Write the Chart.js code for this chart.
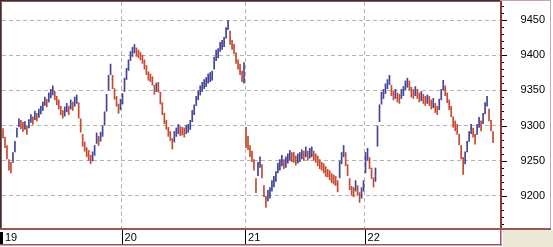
<!DOCTYPE html>
<html><head><meta charset="utf-8">
<script src="https://cdn.jsdelivr.net/npm/chart.js@4/dist/chart.umd.min.js"></script>
<style>html,body{margin:0;padding:0;background:#fff}#wrap{width:553px;height:247px}</style>
</head><body><div id="wrap"><canvas id="c" width="553" height="247"></canvas></div>
<script>
// ---- data ----
const dayLabels = ['19', '20', '21', '22'];
const dayStart  = [0, 60, 122, 182];          // bar index where each day begins
const slotCount = 250;                        // bar slots along the time axis
const yTickStep = 10, yLabelStep = 50;

const low19 = [9282,9268,9252,9236,9232,9247,9262,9283,9298,9295,9291,9294,9287,9296,9304,9301,9308,9306,9311,9316,
 9321,9328,9326,9333,9339,9343,9336,9329,9323,9315,9310,9313,9319,9315,9323,9321,9327,9331,9310,9290,
 9270,9263,9255,9250,9245,9249,9257,9274,9271,9277,9284,9300,9320,9350,9372,9352,9337,9327,9317,9322];
const high19 = [9296,9284,9272,9252,9248,9262,9278,9297,9310,9308,9305,9306,9300,9309,9316,9313,9321,9318,9324,9328,
 9334,9341,9338,9347,9352,9357,9349,9342,9337,9328,9322,9327,9332,9328,9337,9334,9341,9344,9333,9310,
 9288,9277,9269,9265,9258,9263,9272,9290,9285,9291,9300,9320,9345,9372,9388,9372,9353,9342,9331,9338];
const low20 = [9330,9348,9365,9378,9392,9398,9403,9398,9396,9393,9388,9380,9372,9364,9362,9357,9344,9348,9347,9330,
 9315,9302,9294,9284,9278,9266,9276,9284,9288,9285,9286,9283,9288,9290,9294,9305,9315,9328,9336,9343,
 9348,9352,9355,9360,9362,9364,9380,9392,9396,9405,9408,9412,9424,9436,9415,9408,9402,9388,9380,9372,9362,9360];
const high20 = [9346,9368,9382,9394,9406,9412,9416,9411,9408,9405,9401,9394,9386,9377,9374,9370,9358,9361,9362,9348,
 9333,9318,9308,9298,9292,9282,9292,9297,9302,9299,9298,9297,9301,9302,9308,9322,9330,9342,9350,9357,
 9362,9366,9369,9374,9376,9378,9398,9408,9410,9419,9422,9426,9440,9450,9435,9422,9416,9404,9394,9388,9378,9390];
const low21 = [9268,9265,9255,9248,9236,9204,9228,9240,9225,9198,9183,9192,9196,9206,9212,9220,9232,9236,9242,9238,
 9240,9246,9250,9248,9247,9243,9246,9248,9252,9250,9255,9250,9253,9255,9250,9247,9242,9238,9236,9232,
 9227,9226,9222,9218,9216,9214,9205,9225,9245,9255,9242,9228,9208,9200,9198,9206,9200,9190,9196,9206];
const high21 = [9298,9285,9272,9264,9252,9225,9248,9256,9245,9215,9200,9208,9212,9222,9228,9235,9247,9252,9258,9252,
 9256,9260,9265,9262,9262,9257,9260,9262,9266,9264,9270,9264,9268,9270,9264,9260,9257,9252,9248,9246,
 9242,9238,9236,9232,9230,9228,9222,9250,9262,9272,9262,9245,9225,9214,9212,9222,9215,9205,9212,9222];
const low22 = [9232,9250,9238,9224,9212,9220,9270,9305,9330,9338,9345,9352,9358,9342,9336,9338,9333,9331,9338,9342,
 9350,9354,9350,9340,9338,9342,9338,9333,9335,9331,9328,9331,9328,9323,9325,9318,9315,9322,9336,9350,
 9342,9332,9322,9312,9297,9292,9287,9272,9252,9230,9245,9262,9277,9288,9283,9273,9287,9297,9292,9302,
 9316,9327,9306,9292,9275];
const high22 = [9262,9268,9255,9240,9226,9240,9300,9330,9348,9352,9360,9366,9372,9358,9350,9352,9347,9345,9352,9356,
 9364,9368,9364,9355,9352,9356,9352,9347,9349,9345,9342,9344,9342,9337,9339,9332,9328,9338,9352,9365,
 9357,9347,9337,9328,9313,9307,9302,9288,9272,9255,9263,9278,9292,9302,9297,9288,9302,9312,9307,9318,
 9333,9342,9324,9308,9292];

// ---- build ----
const lows = [...low19, ...low20, ...low21, ...low22];
const highs = [...high19, ...high20, ...high21, ...high22];
const ranges = lows.map((l, i) => [l, highs[i]]);
const UP = '#45459a', DOWN = '#c84a30';
const colors = ranges.map((r, i) => {
  if (i === 0) return DOWN;
  const m = (r[0] + r[1]) / 2, p = (ranges[i-1][0] + ranges[i-1][1]) / 2;
  return m > p ? UP : DOWN;
});
const labels = Array.from({length: slotCount}, (_, i) => String(i));

const FONT = "'Liberation Sans', Arial, sans-serif";
const GRID = '#b4b4b4';

const frame = {
  id: 'frame',
  beforeDraw(c) {
    const g = c.ctx, a = c.chartArea;
    g.save();
    g.fillStyle = '#ffffff'; g.fillRect(0, 0, c.width, c.height);
    g.fillStyle = '#ece9d8'; g.fillRect(a.right + 3, a.bottom + 2, c.width, c.height);
    g.restore();
  },
  afterDraw(c) {
    const g = c.ctx, a = c.chartArea, y = c.scales.y, x = c.scales.x;
    const axR = c.width - 2, axB = c.height - 2;
    g.save();
    // right-axis tick marks
    g.strokeStyle = '#000'; g.lineWidth = 1;
    for (let v = Math.ceil(y.min / yTickStep) * yTickStep; v <= y.max; v += yTickStep) {
      const p = Math.round(y.getPixelForValue(v)) + 0.5;
      const L = v % yLabelStep === 0 ? 6 : 3;
      g.beginPath(); g.moveTo(a.right + 1, p); g.lineTo(a.right + 1 + L, p); g.stroke();
    }
    // day separators in the time-axis box
    dayStart.forEach((s, k) => {
      if (k === 0) return;
      const px = Math.round((x.getPixelForValue(s - 1) + x.getPixelForValue(s)) / 2) + 0.5;
      g.strokeStyle = '#000'; g.beginPath(); g.moveTo(px, a.bottom + 2); g.lineTo(px, axB); g.stroke();
    });
    g.fillStyle = '#000'; g.fillRect(0, a.bottom + 4, 3, axB - a.bottom - 5);
    // outer frame
    g.fillStyle = '#3c3030'; g.fillRect(0, 0, a.right, 1); g.fillRect(0, 0, 1, a.bottom);
    g.fillStyle = '#8c5858'; g.fillRect(1, 1, a.right - 1, 1); g.fillRect(1, 1, 1, a.bottom);
    // right axis box
    g.fillStyle = '#8a3a3a'; g.fillRect(a.right, 0, 2, a.bottom + 1);
    g.fillStyle = '#c9a5a5'; g.fillRect(axR - 1, 0, 1, a.bottom + 1); g.fillRect(a.right, 0, axR - a.right, 1);
    // plot bottom line and time-axis box
    g.fillStyle = '#9a5656'; g.fillRect(0, a.bottom, axR, 2);
    g.fillRect(0, axB - 1, a.right + 2, 1.5);
    g.fillRect(a.right, a.bottom, 1.5, axB - a.bottom);
    g.restore();
  }
};

new Chart(document.getElementById('c'), {
  type: 'bar',
  data: {
    labels,
    datasets: [{
      data: ranges,
      backgroundColor: colors,
      borderWidth: 0,
      barPercentage: 1,
      categoryPercentage: 0.85,
      grouped: false
    }]
  },
  options: {
    responsive: false,
    animation: false,
    events: [],
    layout: { padding: { left: 2, top: 2, right: 8, bottom: 2 } },
    plugins: { legend: { display: false }, tooltip: { enabled: false } },
    scales: {
      x: {
        offset: true,
        border: { display: false, dash: [4, 3] },
        grid: {
          offset: true,
          drawTicks: false,
          color: ctx => (dayStart.includes(ctx.index) && ctx.index > 0) ? GRID : 'rgba(0,0,0,0)',
          lineWidth: 1
        },
        ticks: {
          autoSkip: false, maxRotation: 0, minRotation: 0,
          align: 'start', labelOffset: 2, padding: 3,
          color: '#000', font: { family: FONT, size: 11 },
          callback: (v, i) => { const k = dayStart.indexOf(i); return k >= 0 ? dayLabels[k] : ''; }
        },
        afterFit: s => { s.height = 17; s.paddingLeft = 0; s.paddingRight = 0; s.paddingTop = 0; s.paddingBottom = 0; }
      },
      y: {
        position: 'right',
        min: 9154, max: 9476,
        border: { display: false, dash: [4, 3] },
        grid: {
          drawTicks: false,
          color: ctx => (ctx.tick && ctx.tick.value % yLabelStep === 0) ? GRID : 'rgba(0,0,0,0)',
          lineWidth: 1
        },
        ticks: {
          autoSkip: false, stepSize: yTickStep, padding: 16, crossAlign: 'far',
          color: '#000', font: { family: FONT, size: 11 },
          callback: v => (v % yLabelStep === 0 ? String(v) : '')
        },
        afterFit: s => { s.width = 45; s.paddingTop = 0; s.paddingBottom = 0; s.paddingLeft = 0; s.paddingRight = 0; }
      }
    }
  },
  plugins: [frame]
});
</script>
</body></html>
